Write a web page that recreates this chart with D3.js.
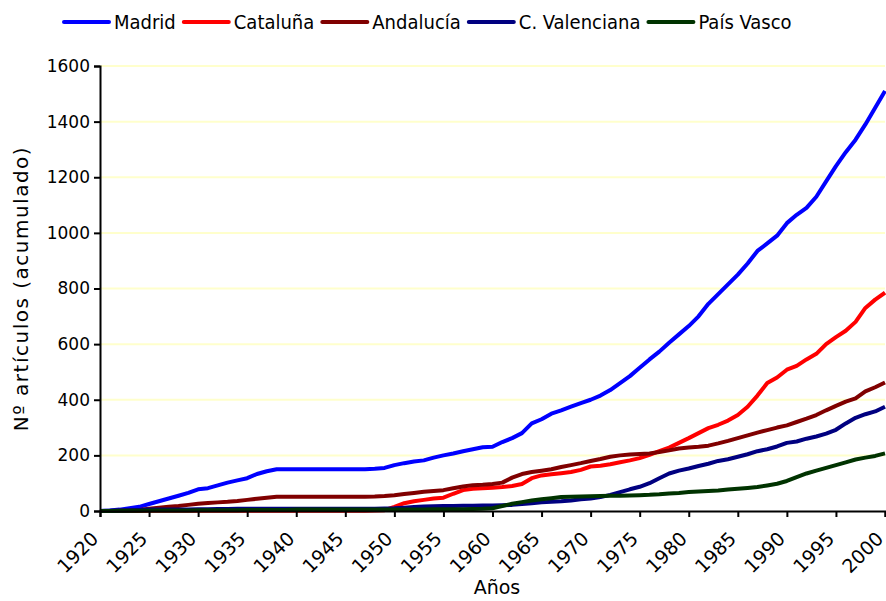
<!DOCTYPE html>
<html>
<head>
<meta charset="utf-8">
<script src="https://cdn.jsdelivr.net/npm/d3@7"></script>
<style>
  body { margin: 0; background: #fff; }
  svg text { font-family: "DejaVu Sans", Verdana, sans-serif; fill: #000; }
  svg .legend text { font-family: "DejaVu Sans Condensed", "DejaVu Sans", sans-serif; font-stretch: condensed; }
</style>
</head>
<body>
<svg id="chart" width="886" height="601"></svg>
<script>
// Years 1920..2000
var years = d3.range(1920, 2001);
var seriesNames = ['Madrid', 'Cataluña', 'Andalucía', 'C. Valenciana', 'País Vasco'];
var seriesColors = ['#0000ff', '#ff0000', '#800000', '#000080', '#003300'];
var yTicks = [0, 200, 400, 600, 800, 1000, 1200, 1400, 1600];
var xTicks = [1920, 1925, 1930, 1935, 1940, 1945, 1950, 1955, 1960, 1965, 1970, 1975, 1980, 1985, 1990, 1995, 2000];

// cumulative counts, one value per year
var madrid = [0, 2, 5, 10, 15, 25, 35, 45, 55, 65, 78, 82, 92, 102, 110, 118, 133, 143, 150, 150,
  150, 150, 150, 150, 150, 150, 150, 150, 152, 155, 165, 172, 178, 182, 192, 200, 207, 215, 222, 229,
  231, 248, 262, 280, 315, 330, 350, 362, 375, 388, 400, 415, 435, 460, 485, 515, 545, 573, 605, 635,
  665, 700, 745, 780, 815, 850, 890, 935, 962, 990, 1035, 1065, 1090, 1130, 1185, 1240, 1290, 1335, 1390, 1450,
  1510];
var cataluna = [0, 0, 0, 0, 0, 1, 1, 1, 1, 1, 1, 1, 1, 1, 1, 1, 1, 1, 1, 1,
  1, 1, 1, 1, 1, 1, 1, 1, 2, 3, 15, 28, 35, 40, 45, 48, 62, 75, 80, 82,
  84, 86, 90, 97, 118, 128, 132, 136, 140, 148, 160, 163, 168, 175, 182, 190, 202, 215, 228, 245,
  262, 280, 298, 310, 325, 345, 375, 415, 460, 480, 508, 522, 545, 565, 600, 625, 648, 680, 730, 760,
  785];
var andalucia = [0, 0, 1, 2, 4, 8, 12, 15, 18, 22, 26, 29, 31, 33, 36, 40, 44, 48, 51, 51,
  51, 51, 51, 51, 51, 51, 51, 51, 52, 54, 57, 61, 65, 69, 72, 75, 82, 88, 93, 94,
  97, 102, 120, 133, 140, 145, 150, 158, 165, 172, 180, 187, 195, 200, 203, 205, 207, 212, 218, 225,
  228, 231, 235, 243, 252, 262, 272, 282, 291, 300, 308, 320, 332, 345, 362, 378, 393, 405, 430, 445,
  462];
var valenciana = [0, 1, 2, 3, 4, 5, 5, 5, 5, 5, 6, 6, 7, 7, 8, 8, 8, 8, 8, 8,
  8, 8, 8, 8, 8, 8, 8, 8, 8, 9, 10, 12, 14, 16, 17, 18, 18, 19, 19, 20,
  20, 21, 22, 25, 28, 31, 33, 35, 38, 42, 45, 50, 58, 68, 78, 87, 100, 118, 135, 145,
  153, 162, 170, 180, 186, 195, 204, 215, 222, 232, 245, 250, 260, 268, 278, 292, 315, 335, 348, 358,
  375];
var paisVasco = [0, 0, 1, 1, 1, 2, 2, 2, 2, 2, 3, 3, 3, 3, 3, 4, 4, 4, 4, 4,
  5, 5, 5, 5, 5, 5, 5, 5, 5, 5, 5, 5, 5, 5, 6, 6, 6, 6, 7, 8,
  10, 18, 26, 32, 38, 42, 46, 50, 51, 52, 53, 54, 55, 55, 56, 57, 58, 60, 63, 65,
  68, 70, 72, 74, 77, 80, 83, 86, 92, 98, 108, 122, 135, 145, 155, 165, 175, 185, 192, 198,
  207];

var allSeries = [madrid, cataluna, andalucia, valenciana, paisVasco];

var margin = { top: 66, right: 1, bottom: 90, left: 100 },
    width = 886 - margin.left - margin.right,
    height = 601 - margin.top - margin.bottom;

var svg = d3.select('#chart');
var g = svg.append('g').attr('transform', `translate(${margin.left},${margin.top})`);

var x = d3.scaleLinear().domain([1920, 2000]).range([0, width]);
var y = d3.scaleLinear().domain([0, 1600]).range([height, 0]);

// gridlines
g.selectAll('.grid')
  .data(yTicks.filter(d => d > 0))
  .enter().append('line')
  .attr('x1', 0).attr('x2', width)
  .attr('y1', d => y(d)).attr('y2', d => y(d))
  .attr('stroke', '#ffffcc')
  .attr('stroke-width', 2);

// lines
var line = d3.line()
  .x((d, i) => x(years[i]))
  .y(d => y(d));

g.selectAll('.series')
  .data(allSeries)
  .enter().append('path')
  .attr('d', line)
  .attr('fill', 'none')
  .attr('stroke', (d, i) => seriesColors[i])
  .attr('stroke-width', 4)
  .attr('stroke-linejoin', 'round');

// axes
var yAxis = g.append('g')
  .call(d3.axisLeft(y).tickValues(yTicks).tickSize(6).tickPadding(4).tickFormat(d3.format('d')));
var xAxis = g.append('g')
  .attr('transform', `translate(0,${height})`)
  .call(d3.axisBottom(x).tickValues(xTicks).tickSize(6).tickFormat(d3.format('d')));

[yAxis, xAxis].forEach(a => {
  a.select('.domain').attr('stroke', '#000').attr('stroke-width', 2);
  a.selectAll('.tick line').attr('stroke', '#000').attr('stroke-width', 2);
  a.selectAll('text').attr('font-family', null);
});
yAxis.selectAll('text').style('font-size', '17px');

xAxis.selectAll('.tick text')
  .style('font-size', '19px')
  .attr('text-anchor', 'end')
  .attr('dy', null)
  .attr('y', 0)
  .attr('transform', 'translate(-1,29) rotate(-45)');

// axis titles
svg.append('text')
  .attr('x', 497)
  .attr('y', 594)
  .attr('text-anchor', 'middle')
  .style('font-size', '19px')
  .text('Años');

svg.append('text')
  .attr('transform', `translate(28,${margin.top + height / 2}) rotate(-90)`)
  .attr('text-anchor', 'middle')
  .style('font-size', '20px')
  .style('letter-spacing', '1.5px')
  .text('Nº artículos (acumulado)');

// legend
var legend = svg.append('g').attr('class', 'legend').attr('transform', 'translate(0,22)');
var lx = 64;
seriesNames.forEach((name, i) => {
  legend.append('line')
    .attr('x1', lx).attr('x2', lx + 45)
    .attr('y1', 0).attr('y2', 0)
    .attr('stroke', seriesColors[i])
    .attr('stroke-width', 4)
    .attr('stroke-linecap', 'round');
  var t = legend.append('text')
    .attr('x', lx + 50)
    .attr('y', 0)
    .attr('dy', '0.36em')
    .style('font-size', '20px')
    .text(name);
  lx += 50 + t.node().getComputedTextLength() + 8;
});
</script>
</body>
</html>
